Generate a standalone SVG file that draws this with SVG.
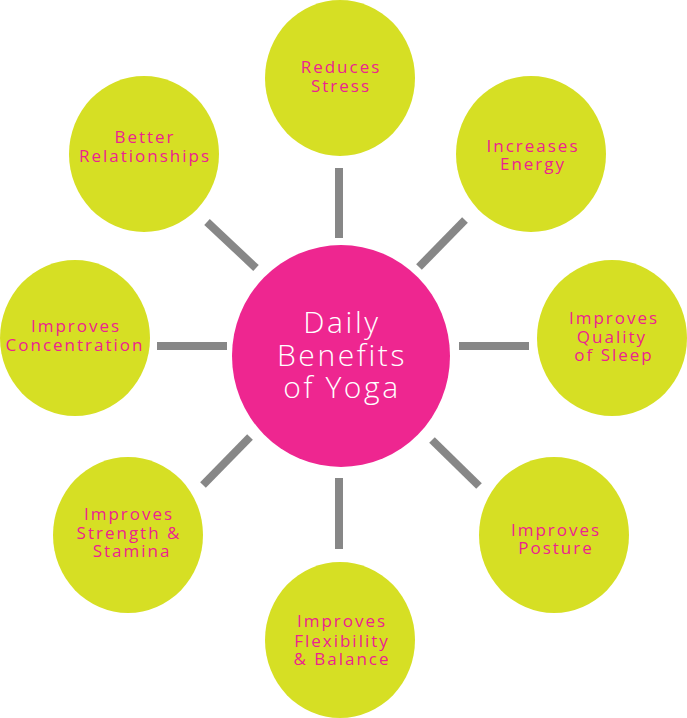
<svg xmlns="http://www.w3.org/2000/svg" width="687" height="718" viewBox="0 0 687 718">
<style>
.leaf{fill:#D6DF24}
.hub{fill:#EE2690}
.lbl{font-family:"Open Sans","Liberation Sans",sans-serif;font-size:17px;letter-spacing:2px;fill:#EC2290;text-anchor:middle}
.hubt{font-family:"Open Sans","Liberation Sans",sans-serif;font-weight:300;font-size:30px;letter-spacing:2.6px;fill:#FFFFFF;text-anchor:middle}
.conn line{stroke:#878787;stroke-width:8;stroke-linecap:butt}
</style>
<rect width="687" height="718" fill="#FFFFFF"/>
<g id="connectors" class="conn">
<line x1="339" y1="168" x2="339" y2="238"/>
<line x1="419" y1="267" x2="465" y2="220"/>
<line x1="459" y1="346" x2="529" y2="346"/>
<line x1="432" y1="440" x2="479" y2="486"/>
<line x1="339" y1="478" x2="339" y2="549"/>
<line x1="203" y1="485" x2="250" y2="437"/>
<line x1="157" y1="346" x2="227" y2="346"/>
<line x1="207" y1="222" x2="256" y2="268"/>
</g>
<g id="hub">
<ellipse class="hub" cx="341" cy="356" rx="109" ry="111"/>
<text class="hubt" x="342" y="333">Daily</text>
<text class="hubt" x="342" y="366">Benefits</text>
<text class="hubt" x="342" y="398">of Yoga</text>
</g>
<g id="reduces-stress">
<ellipse class="leaf" cx="340" cy="78" rx="75" ry="78"/>
<text class="lbl" x="341" y="73">Reduces</text>
<text class="lbl" x="341" y="92">Stress</text>
</g>
<g id="increases-energy">
<ellipse class="leaf" cx="531" cy="154" rx="75" ry="78"/>
<text class="lbl" x="533" y="152">Increases</text>
<text class="lbl" x="533" y="170">Energy</text>
</g>
<g id="quality-of-sleep">
<ellipse class="leaf" cx="612" cy="338" rx="75" ry="78"/>
<text class="lbl" x="614" y="324">Improves</text>
<text class="lbl" x="612" y="343">Quality</text>
<text class="lbl" x="614" y="361">of Sleep</text>
</g>
<g id="posture">
<ellipse class="leaf" cx="554" cy="535" rx="75" ry="78"/>
<text class="lbl" x="556" y="536">Improves</text>
<text class="lbl" x="556" y="554">Posture</text>
</g>
<g id="flexibility-balance">
<ellipse class="leaf" cx="340" cy="640" rx="75" ry="78"/>
<text class="lbl" x="342" y="627">Improves</text>
<text class="lbl" x="342" y="647">Flexibility</text>
<text class="lbl" x="342" y="665">&amp; Balance</text>
</g>
<g id="strength-stamina">
<ellipse class="leaf" cx="128" cy="535" rx="75" ry="78"/>
<text class="lbl" x="129" y="520">Improves</text>
<text class="lbl" x="129" y="539">Strength &amp;</text>
<text class="lbl" x="132" y="557">Stamina</text>
</g>
<g id="concentration">
<ellipse class="leaf" cx="75" cy="338" rx="75" ry="78"/>
<text class="lbl" x="76" y="332">Improves</text>
<text class="lbl" x="75" y="351">Concentration</text>
</g>
<g id="better-relationships">
<ellipse class="leaf" cx="144" cy="154" rx="75" ry="78"/>
<text class="lbl" x="145" y="143">Better</text>
<text class="lbl" x="145" y="162">Relationships</text>
</g>
</svg>
